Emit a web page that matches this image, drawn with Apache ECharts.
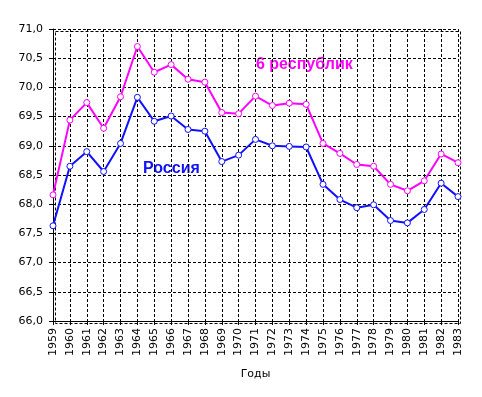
<!DOCTYPE html>
<html>
<head>
<meta charset="utf-8">
<script src="https://cdn.jsdelivr.net/npm/echarts@6/dist/echarts.min.js"></script>
<style>
  html, body { margin: 0; padding: 0; background: #fff; }
  #chart { width: 482px; height: 397px; }
</style>
</head>
<body>
<div id="chart"></div>
<script>
const years = ['1959', '1960', '1961', '1962', '1963', '1964', '1965', '1966', '1967', '1968', '1969', '1970',
  '1971', '1972', '1973', '1974', '1975', '1976', '1977', '1978', '1979', '1980', '1981', '1982', '1983'];
const russia = [67.63, 68.65, 68.90, 68.56, 69.04, 69.83, 69.42, 69.51, 69.28, 69.25, 68.73, 68.84,
  69.11, 69.00, 68.99, 68.98, 68.34, 68.08, 67.94, 67.99, 67.72, 67.68, 67.91, 68.36, 68.13];
const republics6 = [68.16, 69.44, 69.74, 69.30, 69.84, 70.70, 70.26, 70.39, 70.14, 70.09, 69.57, 69.55,
  69.85, 69.69, 69.73, 69.71, 69.04, 68.87, 68.68, 68.65, 68.34, 68.23, 68.40, 68.86, 68.71];

const font = 'Tahoma, "DejaVu Sans", Verdana, sans-serif';
const dashed = { color: '#000', type: [3, 2], width: 1 };

const chart = echarts.init(document.getElementById('chart'));
chart.setOption({
  animation: false,
  grid: { left: 53, top: 29, right: 24, bottom: 76, show: false },
  xAxis: {
    type: 'category',
    data: years,
    boundaryGap: false,
    name: 'Годы',
    nameLocation: 'middle',
    nameGap: 48,
    nameTextStyle: { color: '#000', fontSize: 11, fontFamily: font },
    axisLine: { lineStyle: { color: '#000', width: 1 } },
    axisTick: { show: true, length: 4, alignWithLabel: true, lineStyle: { color: '#000' } },
    axisLabel: { rotate: 90, interval: 0, color: '#000', fontSize: 11, fontFamily: font, margin: 7 },
    splitLine: { show: true, lineStyle: dashed },
  },
  yAxis: {
    type: 'value',
    min: 66,
    max: 71,
    interval: 0.5,
    axisLine: { show: true, lineStyle: { color: '#000', width: 1 } },
    axisTick: { show: true, length: 4, lineStyle: { color: '#000' } },
    axisLabel: {
      color: '#000', fontSize: 11, fontFamily: font, margin: 10,
      formatter: (v) => v.toFixed(1).replace('.', ','),
    },
    splitLine: { show: true, lineStyle: dashed },
  },
  series: [
    {
      name: 'Россия',
      type: 'line',
      data: russia,
      symbol: 'circle',
      symbolSize: 6,
      lineStyle: { color: '#1010ff', width: 2 },
      itemStyle: { color: '#fff', borderColor: '#1010ff', borderWidth: 1 },
      z: 3,
    },
    {
      name: '6 республик',
      type: 'line',
      data: republics6,
      symbol: 'circle',
      symbolSize: 6,
      lineStyle: { color: '#ff00ff', width: 2 },
      itemStyle: { color: '#fff', borderColor: '#ff00ff', borderWidth: 1 },
      z: 3,
    },
  ],
  graphic: [
    {
      type: 'rect', left: 53, top: 29, shape: { width: 405, height: 292 }, silent: true, z: -1,
      style: { fill: 'none', stroke: '#000', lineDash: [3, 2], lineWidth: 1 },
    },
    {
      type: 'text', left: 143, top: 161,
      style: { text: 'Россия', fill: '#1010ff', font: 'bold 16px Arial, "Liberation Sans", sans-serif' },
    },
    {
      type: 'text', left: 256, top: 57,
      style: { text: '6 республик', fill: '#ff00ff', font: 'bold 16px Arial, "Liberation Sans", sans-serif' },
    },
  ],
});
</script>
</body>
</html>
